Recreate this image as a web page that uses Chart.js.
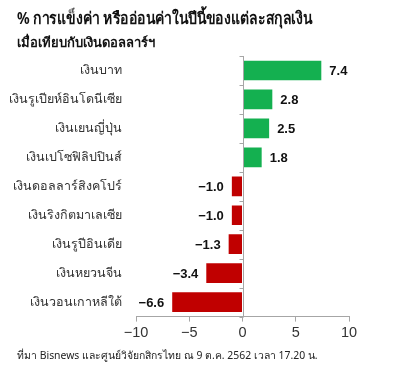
<!DOCTYPE html>
<html>
<head>
<meta charset="utf-8">
<script src="https://cdn.jsdelivr.net/npm/chart.js@4.4.0/dist/chart.umd.min.js"></script>
<style>
  html, body { margin: 0; padding: 0; background: #fff; }
  #wrap { position: relative; width: 405px; height: 378px; font-family: "Noto Sans", sans-serif; }
  #title { position: absolute; left: 17px; top: 5px; font-size: 16.5px; font-weight: bold; color: #111; white-space: nowrap; transform: scaleX(0.85); transform-origin: left top; }
  #subtitle { position: absolute; left: 17px; top: 32px; font-size: 13px; font-weight: bold; color: #111; white-space: nowrap; }
  #source { position: absolute; left: 17px; top: 347px; font-size: 10.4px; color: #222; white-space: nowrap; }
  canvas { position: absolute; left: 0; top: 0; }
</style>
</head>
<body>
<div id="wrap">
  <canvas id="chart" width="405" height="378"></canvas>
  <div id="title">% การแข็งค่า หรืออ่อนค่าในปีนี้ของแต่ละสกุลเงิน</div>
  <div id="subtitle">เมื่อเทียบกับเงินดอลลาร์ฯ</div>
  <div id="source">ที่มา Bisnews และศูนย์วิจัยกสิกรไทย ณ 9 ต.ค. 2562 เวลา 17.20 น.</div>
</div>
<script>
var currencies = ['เงินบาท', 'เงินรูเปียห์อินโดนีเซีย', 'เงินเยนญี่ปุ่น', 'เงินเปโซฟิลิปปินส์',
  'เงินดอลลาร์สิงคโปร์', 'เงินริงกิตมาเลเซีย', 'เงินรูปีอินเดีย', 'เงินหยวนจีน', 'เงินวอนเกาหลีใต้'];
var changes = [7.4, 2.8, 2.5, 1.8, -1.0, -1.0, -1.3, -3.4, -6.6];
var xTicks = [-10, -5, 0, 5, 10];

var green = '#14b050';
var red = '#c00000';

function fmt(v) {
  var s = Math.abs(v).toFixed(1);
  return v < 0 ? '\u2212' + s : s;
}

// value labels at the end of each bar
var valueLabels = {
  id: 'valueLabels',
  afterDatasetsDraw: function(chart) {
    var ctx = chart.ctx;
    var meta = chart.getDatasetMeta(0);
    ctx.save();
    ctx.font = 'bold 13px "Liberation Sans", Arial, sans-serif';
    ctx.fillStyle = '#111';
    ctx.textBaseline = 'middle';
    meta.data.forEach(function(bar, i) {
      var v = changes[i];
      if (v >= 0) {
        ctx.textAlign = 'left';
        ctx.fillText(fmt(v), bar.x + 8, bar.y + 1);
      } else {
        ctx.textAlign = 'right';
        ctx.fillText(fmt(v), bar.x - 8, bar.y + 1);
      }
    });
    ctx.restore();
  }
};

// vertical axis line at zero with small ticks between categories
var zeroAxis = {
  id: 'zeroAxis',
  afterDatasetsDraw: function(chart) {
    var ctx = chart.ctx;
    var x0 = Math.round(chart.scales.x.getPixelForValue(0)) + 0.5;
    var area = chart.chartArea;
    var y = chart.scales.y;
    ctx.save();
    ctx.strokeStyle = '#a6a6a6';
    ctx.lineWidth = 1;
    ctx.beginPath();
    ctx.moveTo(x0, area.top);
    ctx.lineTo(x0, area.bottom);
    for (var i = 0; i <= currencies.length; i++) {
      var yy = Math.round(y.getPixelForValue(i - 0.5)) + 0.5;
      ctx.moveTo(x0 - 4, yy);
      ctx.lineTo(x0, yy);
    }
    ctx.stroke();
    ctx.restore();
  }
};

new Chart(document.getElementById('chart'), {
  type: 'bar',
  data: {
    labels: currencies,
    datasets: [{
      data: changes,
      backgroundColor: changes.map(function(v) { return v >= 0 ? green : red; }),
      barPercentage: 0.85,
      categoryPercentage: 0.8
    }]
  },
  options: {
    indexAxis: 'y',
    responsive: false,
    animation: false,
    layout: { padding: { top: 56, right: 56, bottom: 33, left: 0 } },
    plugins: {
      legend: { display: false },
      tooltip: { enabled: false }
    },
    scales: {
      x: {
        min: -10,
        max: 10,
        afterBuildTicks: function(scale) {
          scale.ticks = xTicks.map(function(v) { return { value: v }; });
        },
        grid: { drawOnChartArea: false, tickLength: 5, tickColor: '#a6a6a6' },
        border: { color: '#a6a6a6' },
        ticks: {
          color: '#333',
          padding: 3,
          font: { family: '"Liberation Sans", Arial, sans-serif', size: 14.5 },
          callback: function(v) { return v < 0 ? '\u2212' + Math.abs(v) : String(v); }
        }
      },
      y: {
        afterFit: function(scale) { scale.width = 136; },
        grid: { display: false, drawTicks: false },
        border: { display: false },
        ticks: {
          color: '#333',
          padding: 14,
          font: { family: '"Noto Sans", sans-serif', size: 12.5 }
        }
      }
    }
  },
  plugins: [valueLabels, zeroAxis]
});
</script>
</body>
</html>
